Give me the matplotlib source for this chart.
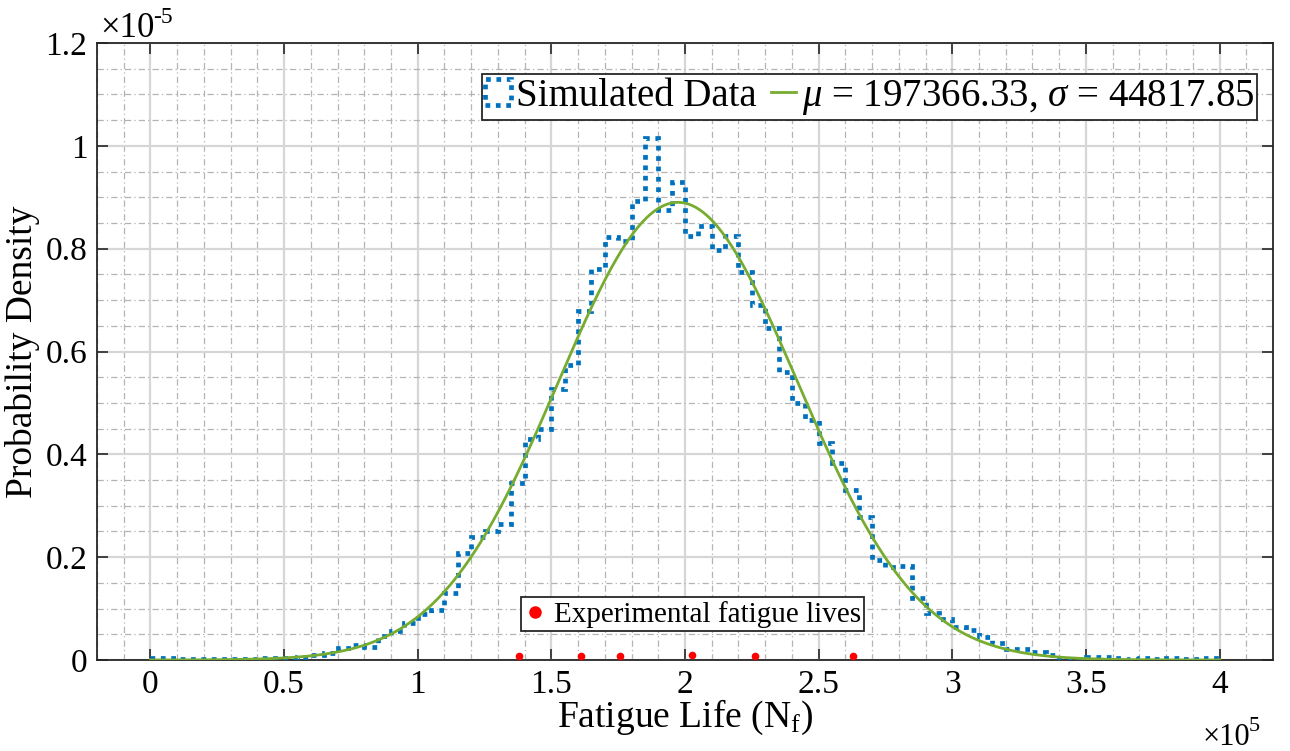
import matplotlib
matplotlib.use("Agg")
import matplotlib.pyplot as plt
import numpy as np
from matplotlib.patches import Rectangle
from matplotlib.lines import Line2D
from matplotlib.ticker import MultipleLocator, FuncFormatter

plt.rcParams['font.family'] = ['Liberation Serif', 'DejaVu Serif']
plt.rcParams['mathtext.fontset'] = 'custom'
plt.rcParams['mathtext.rm'] = 'Liberation Serif'
plt.rcParams['mathtext.it'] = 'Liberation Serif:italic'

# histogram of simulated lives, bin width 5000 from 0 to 4e5 (density in 1e-5)
bin_width = 5000
n_bins = 80
density_e5 = [
    0.003, 0.004, 0.002, 0.002, 0.002, 0.002, 0.002, 0.002, 0.003, 0.004,
    0.004, 0.006, 0.010, 0.014, 0.023, 0.029, 0.025, 0.047, 0.056, 0.072,
    0.090, 0.097, 0.130, 0.208, 0.240, 0.250, 0.265, 0.345, 0.430, 0.450,
    0.528, 0.574, 0.678, 0.761, 0.822, 0.814, 0.893, 1.015, 0.875, 0.930,
    0.824, 0.845, 0.798, 0.824, 0.755, 0.691, 0.646, 0.560, 0.500, 0.467,
    0.423, 0.383, 0.331, 0.279, 0.195, 0.180, 0.183, 0.120, 0.092, 0.080,
    0.065, 0.058, 0.045, 0.033, 0.022, 0.021, 0.016, 0.010, 0.002, 0.001,
    0.006, 0.005, 0.003, 0.002, 0.003, 0.002, 0.003, 0.002, 0.002, 0.003,
]

# normal fit
mu = 197366.33
sigma = 44817.85

# experimental fatigue lives
exp_lives = [138000, 161000, 175600, 202700, 226100, 262900]
exp_y_e5 = [0.007, 0.007, 0.007, 0.009, 0.007, 0.007]

blue = '#0072BD'
green = '#77AC30'

edges = np.arange(n_bins + 1) * bin_width
density = np.array(density_e5) * 1e-5

xfit = np.linspace(0, n_bins * bin_width, 600)
yfit = np.exp(-0.5 * ((xfit - mu) / sigma) ** 2) / (sigma * np.sqrt(2 * np.pi))

W, H = 1290, 751
fig = plt.figure(figsize=(W / 100, H / 100), dpi=100)
ax = fig.add_axes([97 / W, 1 - 660 / H, (1273 - 97) / W, (660 - 43) / H])

ax.stairs(density, edges, baseline=None, color=blue, lw=3.4,
          linestyle=(0, (1, 1.2)), zorder=3)
ax.plot(xfit, yfit, color=green, lw=2, zorder=4)
ax.plot(exp_lives, np.array(exp_y_e5) * 1e-5, 'o', color='#FF0000',
        ms=5.5, mec='none', zorder=5, clip_on=False)

ax.set_xlim(-20000, 420000)
ax.set_ylim(0, 1.2e-5)

ax.xaxis.set_minor_locator(MultipleLocator(10000))
ax.yaxis.set_major_locator(MultipleLocator(0.2e-5))
ax.yaxis.set_minor_locator(MultipleLocator(0.05e-5))
ax.set_xticks(np.arange(0, 400001, 50000))
ax.xaxis.set_major_formatter(FuncFormatter(lambda v, p: f"{v / 1e5:g}"))
ax.yaxis.set_major_formatter(FuncFormatter(lambda v, p: f"{round(v / 1e-5, 3):g}"))

ax.grid(which='minor', color='#b4b4b4', lw=0.9, linestyle=(0, (5, 2.5, 1, 2.5)), zorder=0)
ax.grid(which='major', color='#d6d6d6', lw=1.6, linestyle='-', zorder=0)
ax.set_axisbelow(True)

ax.tick_params(which='major', direction='in', length=8, width=1.2,
               top=True, right=True, labelsize=24, pad=7, color='#262626')
ax.tick_params(which='minor', length=0)
for s in ax.spines.values():
    s.set_color('#262626')
    s.set_linewidth(1.3)

ax.set_xlabel('Fatigue Life (N$_{\\mathrm{f}}$)', fontsize=27, labelpad=-2)
ax.set_ylabel('Probability Density', fontsize=27, labelpad=4)

# exponent labels
fig.text(100 / W, 1 - 37 / H, '\u00d710', fontsize=25, ha='left', va='baseline')
fig.text(153 / W, 1 - 23 / H, '-5', fontsize=17, ha='left', va='baseline')
fig.text(1203 / W, 1 - 745 / H, '\u00d710', fontsize=22, ha='left', va='baseline')
fig.text(1249 / W, 1 - 731 / H, '5', fontsize=16, ha='left', va='baseline')

h1 = Rectangle((0, 0), 1, 1, fill=False, edgecolor=blue, lw=3.4,
               linestyle=(0, (1, 1.2)))
h2 = Line2D([], [], color=green, lw=2)
leg1 = ax.legend([h1, h2],
                 ['Simulated Data', '$\\mu$ = 197366.33, $\\sigma$ = 44817.85'],
                 loc='upper right', bbox_to_anchor=(0.9865, 0.949), ncol=2,
                 fontsize=28, frameon=True, fancybox=False, framealpha=1,
                 edgecolor='#262626', handlelength=0.65, handleheight=0.65,
                 handletextpad=0.15, columnspacing=0.35, borderpad=0.08,
                 borderaxespad=0)
leg1.get_frame().set_linewidth(1.3)
ax.add_artist(leg1)

h3 = Line2D([], [], marker='o', color='#FF0000', linestyle='none', ms=9, mec='none')
leg2 = ax.legend([h3], ['Experimental fatigue lives'], loc='center',
                 bbox_to_anchor=(0.5065, 0.074), fontsize=21, frameon=True,
                 fancybox=False, framealpha=1, edgecolor='#262626',
                 handlelength=0.7, handletextpad=0.3, borderpad=0.12,
                 borderaxespad=0)
leg2.get_frame().set_linewidth(1.3)

fig.savefig('out.png', dpi=100)
